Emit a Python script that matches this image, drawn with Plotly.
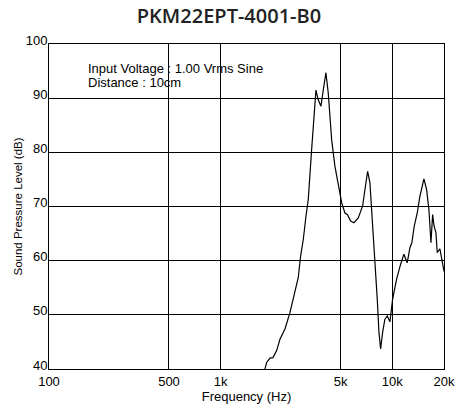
import plotly.graph_objects as go

freq_hz = [1780, 1811, 1853, 1937, 2016, 2119, 2215, 2369, 2533, 2709, 2832, 2924, 3029, 3140, 3238,
           3388, 3590, 3700, 3840, 3960, 4104, 4235, 4432, 4632, 4842, 5067, 5296, 5480, 5717, 5977,
           6332, 6714, 6925, 7180, 7404, 7680, 7780, 7994, 8170, 8357, 8547, 8781, 9052, 9350, 9683,
           10040, 10590, 11170, 11680, 12210, 12660, 13000, 13420, 13970, 14480, 15280, 15840, 16340,
           16600, 16790, 17170, 17500, 17950, 18260, 18930, 19800, 20000]
spl_db = [38.0, 40.0, 41.2, 42.0, 42.1, 43.4, 45.5, 47.4, 50.4, 54.1, 56.9, 60.9, 63.9, 68.2, 71.3,
          80.5, 91.5, 89.7, 88.5, 91.5, 94.7, 90.9, 82.3, 77.4, 74.4, 70.7, 68.8, 68.5, 67.3, 67.0,
          67.9, 70.1, 73.1, 76.5, 74.4, 66.4, 65.2, 59.0, 52.9, 46.8, 43.7, 46.8, 49.2, 49.8, 48.7,
          52.9, 56.6, 59.3, 61.2, 59.6, 62.4, 63.3, 66.4, 68.8, 71.9, 75.1, 73.1, 69.4,
          66.4, 63.3, 68.5, 66.4, 65.2, 61.5, 62.2, 58.4, 58.0]

x_tick_vals = [100, 500, 1000, 5000, 10000, 20000]
x_tick_text = ["100", "500", "1k", "5k", "10k", "20k"]
y_tick_vals = [40, 50, 60, 70, 80, 90, 100]

title_text = "PKM22EPT-4001-B0"
note_lines = ["Input Voltage : 1.00 Vrms Sine", "Distance : 10cm"]

fig = go.Figure()
fig.add_trace(go.Scatter(x=freq_hz, y=spl_db, mode="lines",
                         line=dict(color="black", width=1.2), showlegend=False,
                         hoverinfo="skip"))

font_main = "Liberation Sans, Arial, sans-serif"

fig.update_layout(
    width=457, height=410,
    margin=dict(l=49, r=13, t=44, b=41),
    paper_bgcolor="white", plot_bgcolor="white",
    title=dict(text=title_text, x=229 / 457, xref="container", xanchor="center",
               y=1 - 16 / 410, yref="container", yanchor="middle",
               font=dict(family="Open Sans, sans-serif", size=20, color="#222", weight=600)),
    font=dict(family=font_main, size=13, color="black"),
    xaxis=dict(type="log", range=[2, 4.30103], tickvals=x_tick_vals, ticktext=x_tick_text,
               showgrid=True, gridcolor="black", gridwidth=1, automargin=False,
               showline=True, linecolor="black", linewidth=1, mirror=True,
               ticks="", tickfont=dict(size=13, family=font_main),
               title=dict(text="Frequency (Hz)", font=dict(size=13, family=font_main), standoff=0),
               zeroline=False),
    yaxis=dict(range=[40, 100], tickvals=y_tick_vals, automargin=False,
               showgrid=True, gridcolor="black", gridwidth=1,
               showline=True, linecolor="black", linewidth=1, mirror=True,
               ticks="", tickfont=dict(size=13, family=font_main), ticklabelshift=-4,
               ticklabelstandoff=-2,
               title=dict(text="Sound Pressure Level (dB)", font=dict(size=11.5, family=font_main), standoff=0),
               zeroline=False),
)

note_y_px = [68, 82.5]
for txt, ypx in zip(note_lines, note_y_px):
    fig.add_annotation(text=txt, xref="paper", yref="paper",
                       x=(86 - 49) / 395, y=(369 - ypx) / 325, xanchor="left", yanchor="middle",
                       showarrow=False, align="left",
                       font=dict(size=13, family=font_main, color="black"))

fig.write_html("out.html", config={"displayModeBar": False},
               post_script="document.body.style.margin='0';document.body.style.padding='0';")
